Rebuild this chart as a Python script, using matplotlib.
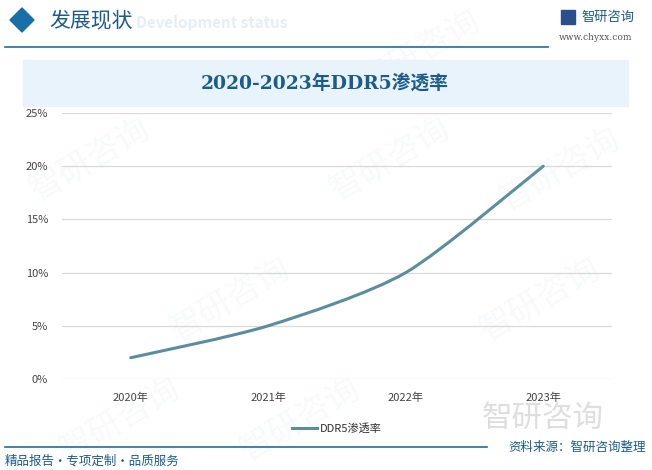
import matplotlib
matplotlib.use("Agg")
import matplotlib.pyplot as plt
from matplotlib.path import Path
from matplotlib.patches import PathPatch, Rectangle, Polygon
import numpy as np

plt.rcParams['font.family'] = ['Noto Sans CJK SC', 'DejaVu Sans']

# %% data
years = ["2020年", "2021年", "2022年", "2023年"]
rate = [0.02, 0.05, 0.10, 0.20]   # DDR5 渗透率
yticks = [0, 0.05, 0.10, 0.15, 0.20, 0.25]
title = "2020-2023年DDR5渗透率"
series_name = "DDR5渗透率"

line_col = "#5a8d9f"
dark_blue = "#1b5c8c"

W, H = 652, 470
fig = plt.figure(figsize=(W / 100, H / 100), dpi=100)

def fx(px):
    return px / W

def fy(py):
    return 1 - py / H

# %% faint watermarks
for (wx, wy) in [(90, 160), (230, 300), (390, 160), (540, 300), (120, 420), (300, 420),
                 (420, 52), (560, 170)]:
    fig.text(fx(wx), fy(wy), "智研咨询", fontsize=24, color="#b8c4cc", alpha=0.09,
             rotation=30, ha="center", va="center", zorder=0)

# %% header
fig.patches.append(Polygon([[fx(10), fy(20)], [fx(22), fy(8)], [fx(34), fy(20)], [fx(22), fy(32)]],
                           closed=True, transform=fig.transFigure, color="#1a6fa8"))
fig.text(fx(136), fy(23), "Development status", fontsize=11, color="#e4eef5", weight="bold",
         ha="left", va="center")
fig.text(fx(49), fy(20), "发展现状", fontsize=15, color=dark_blue, ha="left", va="center")
fig.lines.append(plt.Line2D([fx(5), fx(548)], [fy(47), fy(47)], transform=fig.transFigure,
                            color="#1a6fa8", lw=1.2))
fig.text(fx(581), fy(17), "智研咨询", fontsize=9.5, color=dark_blue, ha="left", va="center")
fig.patches.append(Rectangle((fx(561), fy(24)), fx(14), 14 / H, transform=fig.transFigure,
                             color="#2a4f8a"))
fig.text(fx(559), fy(37), "www.chyxx.com", fontsize=6.5, color="#555555", family="DejaVu Serif",
         ha="left", va="center")

# %% title band
fig.patches.append(Rectangle((fx(23), fy(106)), fx(605), 46 / H, transform=fig.transFigure,
                             color="#e8f3fb", zorder=1))
fig.text(fx(325), fy(83), title, fontsize=13.5, color=dark_blue, weight="bold",
         family=["DejaVu Serif", "Noto Sans CJK SC"], ha="center", va="center", zorder=2)

# %% axes
ax = fig.add_axes([fx(62), fy(379), fx(612 - 62), (379 - 113) / H])
ax.set_facecolor("none")
x = np.arange(len(years))
ax.set_xlim(-0.5, len(years) - 0.5)
ax.set_ylim(0, 0.25)
ax.set_yticks(yticks)
ax.set_yticklabels([f"{int(round(v * 100))}%" for v in yticks])
ax.set_xticks(x)
ax.set_xticklabels(years)
ax.yaxis.grid(True, color="#d9d9d9", lw=0.9)
ax.set_axisbelow(True)
for s in ax.spines.values():
    s.set_visible(False)
ax.tick_params(length=0, labelsize=8, colors="#444444")
ax.tick_params(axis="x", pad=10)
ax.tick_params(axis="y", pad=10)

# smooth line through the data points (Catmull-Rom to Bezier, mild tension)
pts = np.column_stack([x, rate])
verts = [tuple(pts[0])]
codes = [Path.MOVETO]
k = 8
for i in range(len(pts) - 1):
    p0 = pts[i - 1] if i > 0 else pts[i]
    p1 = pts[i]
    p2 = pts[i + 1]
    p3 = pts[i + 2] if i + 2 < len(pts) else pts[i + 1]
    c1 = p1 + (p2 - p0) / k
    c2 = p2 - (p3 - p1) / k
    verts += [tuple(c1), tuple(c2), tuple(p2)]
    codes += [Path.CURVE4] * 3
ax.add_patch(PathPatch(Path(verts, codes), fill=False, edgecolor=line_col, lw=2.2,
                       capstyle="round", joinstyle="round"))
ax.plot([], [], color=line_col, lw=2.2, label=series_name)

leg = ax.legend(loc="upper center", bbox_to_anchor=(0.5, -0.13), frameon=False, fontsize=8,
                handlelength=2.2, handletextpad=0.3)
for t in leg.get_texts():
    t.set_color("#333333")

# %% footer
fig.text(fx(543), fy(418), "智研咨询", fontsize=22, color="#c8c8c8", alpha=0.6,
         ha="center", va="center")
fig.lines.append(plt.Line2D([fx(5), fx(487)], [fy(447), fy(447)], transform=fig.transFigure,
                            color="#1a6fa8", lw=1.2))
fig.text(fx(5), fy(461), "精品报告・专项定制・品质服务", fontsize=9, color=dark_blue,
         ha="left", va="center")
fig.text(fx(646), fy(447), "资料来源：智研咨询整理", fontsize=9, color=dark_blue,
         ha="right", va="center")

fig.savefig("out.png", dpi=100)
